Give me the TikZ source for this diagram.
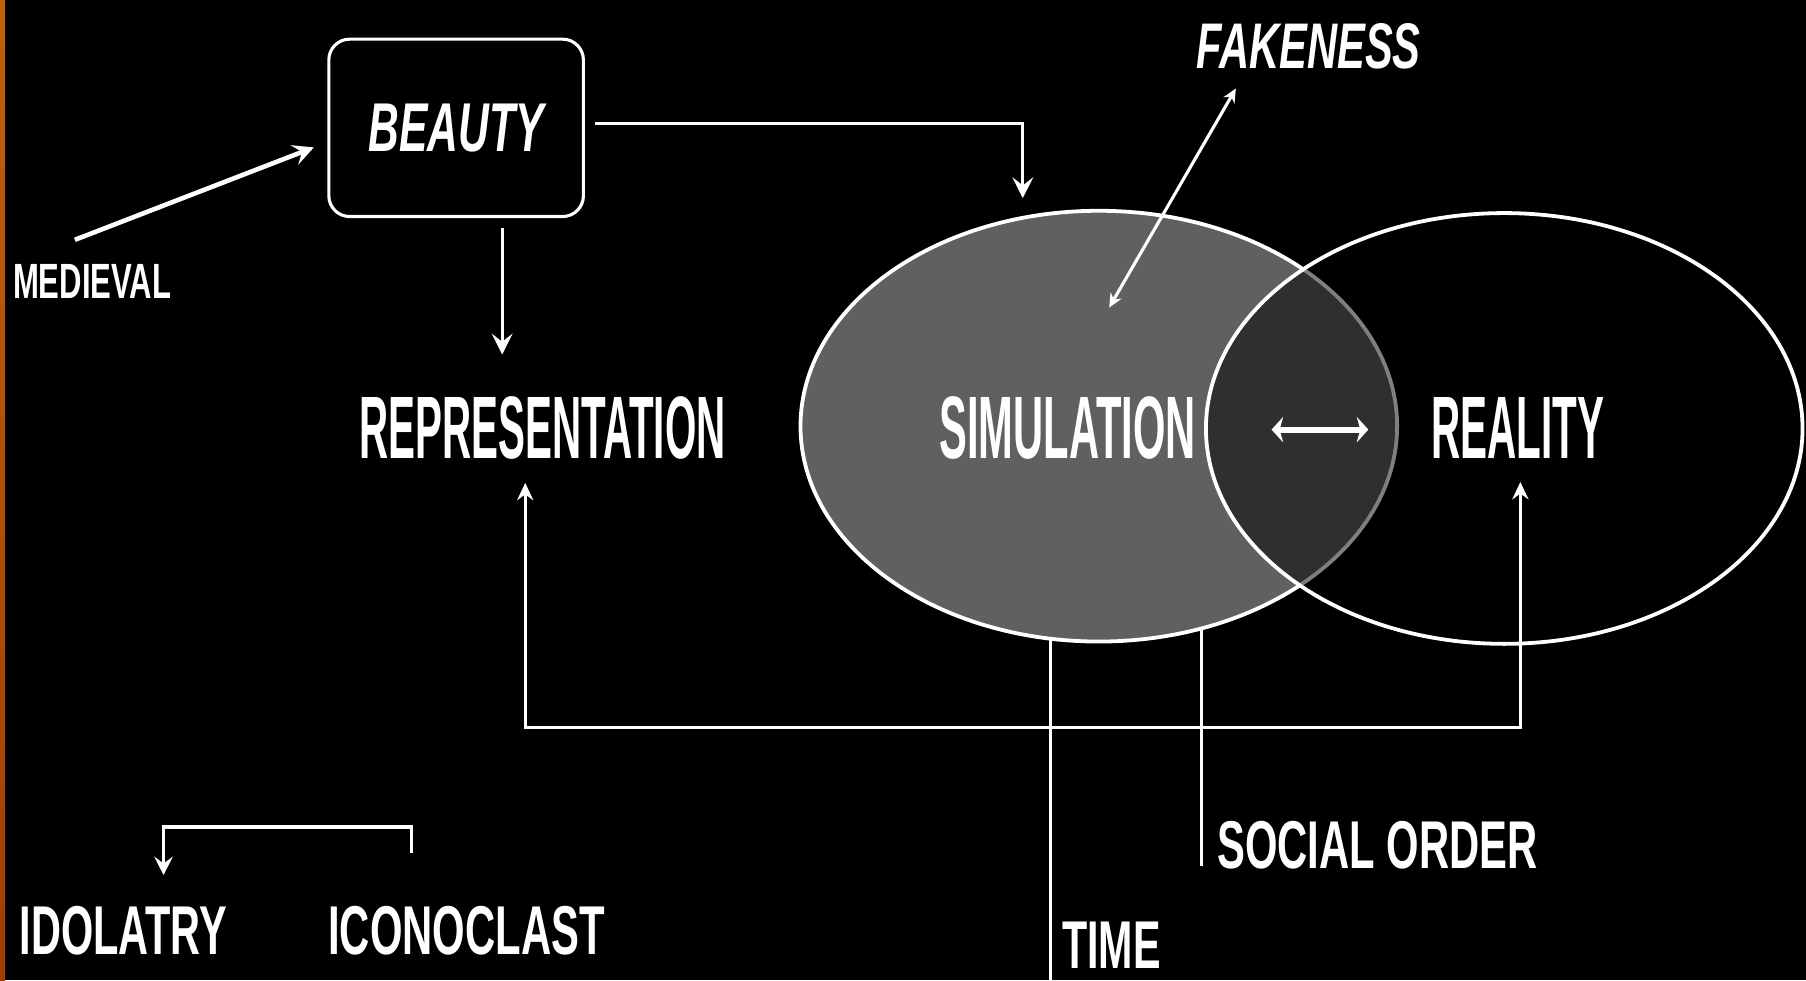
\documentclass[tikz,border=0pt]{standalone}
\usepackage{fontspec}
\setmainfont{Liberation Sans}
\usetikzlibrary{arrows.meta,calc,shapes.geometric}
\newcommand\caplbl[3]{\scalebox{#1}[1]{\fontsize{#2}{#2}\selectfont\bfseries #3}}
\definecolor{simgray}{RGB}{96,96,96}
\definecolor{stripA}{RGB}{192,96,8}
\definecolor{stripB}{RGB}{160,62,0}
\begin{document}
\begin{tikzpicture}[x=1pt,y=-1pt,
  lbl/.style={text=white, inner sep=0pt, outer sep=0pt},
  conn/.style={draw=white, line width=2.7pt},
  bigtip/.style={arrows={-Stealth[length=18pt,width=18pt,inset=7pt]}},
  midtip/.style={arrows={-Stealth[length=16pt,width=16pt,inset=6pt]}},
  bothtip/.style={arrows={Stealth[length=15pt,width=14pt,inset=5pt]-Stealth[length=15pt,width=14pt,inset=5pt]}},
  faketip/.style={arrows={Stealth[length=12pt,width=11pt,inset=4pt]-Stealth[length=12pt,width=11pt,inset=4pt]}},
  dbltip/.style={arrows={Stealth[length=10pt,width=22pt,inset=3pt]-Stealth[length=10pt,width=22pt,inset=3pt]}},
  venn/.style={ellipse, draw=white, line width=3.3pt, minimum width=518pt, minimum height=374pt, inner sep=0pt, outer sep=0pt}]
\fill[black] (0,0) rectangle (1568,851);
\useasboundingbox (0,0) rectangle (1568,851);
\shade[top color=stripA, bottom color=stripB] (0,0) rectangle (4.5,851);

% Venn ellipses
\node[venn, fill=simgray] (sim) at (954,370) {};
\node[venn, fill=black, fill opacity=0.5, draw opacity=1] (real) at (1306,372) {};

% labels
\node[lbl] (medieval) at (80,244) {\caplbl{0.627}{43}{MEDIEVAL}};
\node[lbl, draw=white, line width=2.7pt, rounded corners=18pt, minimum width=221pt, minimum height=154pt] (beauty) at (396,111) {\caplbl{0.616}{60}{\itshape BEAUTY}};
\node[lbl] (fake) at (1136,40) {\caplbl{0.646}{56}{\itshape FAKENESS}};
\node[lbl] (repr) at (471,372) {\caplbl{0.455}{77}{REPRESENTATION}};
\node[lbl] (simt) at (927,372) {\caplbl{0.47}{77}{SIMULATION}};
\node[lbl] (realt) at (1318,372) {\caplbl{0.456}{77}{REALITY}};
\node[lbl] (social) at (1196,734) {\caplbl{0.618}{58.7}{SOCIAL ORDER}};
\node[lbl] (time) at (965,821) {\caplbl{0.61}{58.7}{TIME}};
\node[lbl] (idol) at (107,808) {\caplbl{0.60}{60}{IDOLATRY}};
\node[lbl] (icon) at (405,808) {\caplbl{0.605}{60}{ICONOCLAST}};

% connectors
\draw[conn, line width=4pt, bigtip] ($(medieval.north)+(-15,-21)$) -- ($(beauty.west)+(-13,17)$);
\draw[conn, bigtip] ($(beauty.east)+(10,-4)$) -| ($(sim.north)+(-66,-11)$);
\draw[conn, bigtip] ($(beauty.south)+(40,10)$) -- ($(repr.north)+(-35,-37)$);

\coordinate (ra) at ($(repr.south)+(-15,20)$);
\coordinate (rb) at ($(realt.south)+(2,20)$);
\coordinate (base) at (0,632);
\draw[conn, bothtip] (ra) -- (ra |- base) -- (rb |- base) -- (rb);

\coordinate (tx) at ($(time.west)+(-10,0)$);
\coordinate (bot) at (0,852);
\draw[conn] ($(tx |- sim.south)+(0,-3)$) -- (tx |- bot);

\coordinate (sx) at ($(social.west)+(-14,0)$);
\draw[conn] ($(sx |- sim.south)+(0,-10)$) -- ($(sx |- social.south)+(0,-3)$);

\coordinate (ic) at ($(icon.north)+(-48,-46)$);
\coordinate (idt) at ($(idol.north)+(35,-27)$);
\coordinate (topb) at (0,718);
\draw[conn, midtip] (ic) -- (ic |- topb) -| (idt);

\coordinate (fb) at ($(sim.center)+(9,-103)$);
\draw[conn, faketip] (fb) -- ($(fake.south)+(-63,17)$);

\coordinate (dl) at (1104,373);
\coordinate (dr) at (1188,373);
\draw[draw=white, line width=5pt, dbltip] (dl) -- (dr);
\end{tikzpicture}
\end{document}
